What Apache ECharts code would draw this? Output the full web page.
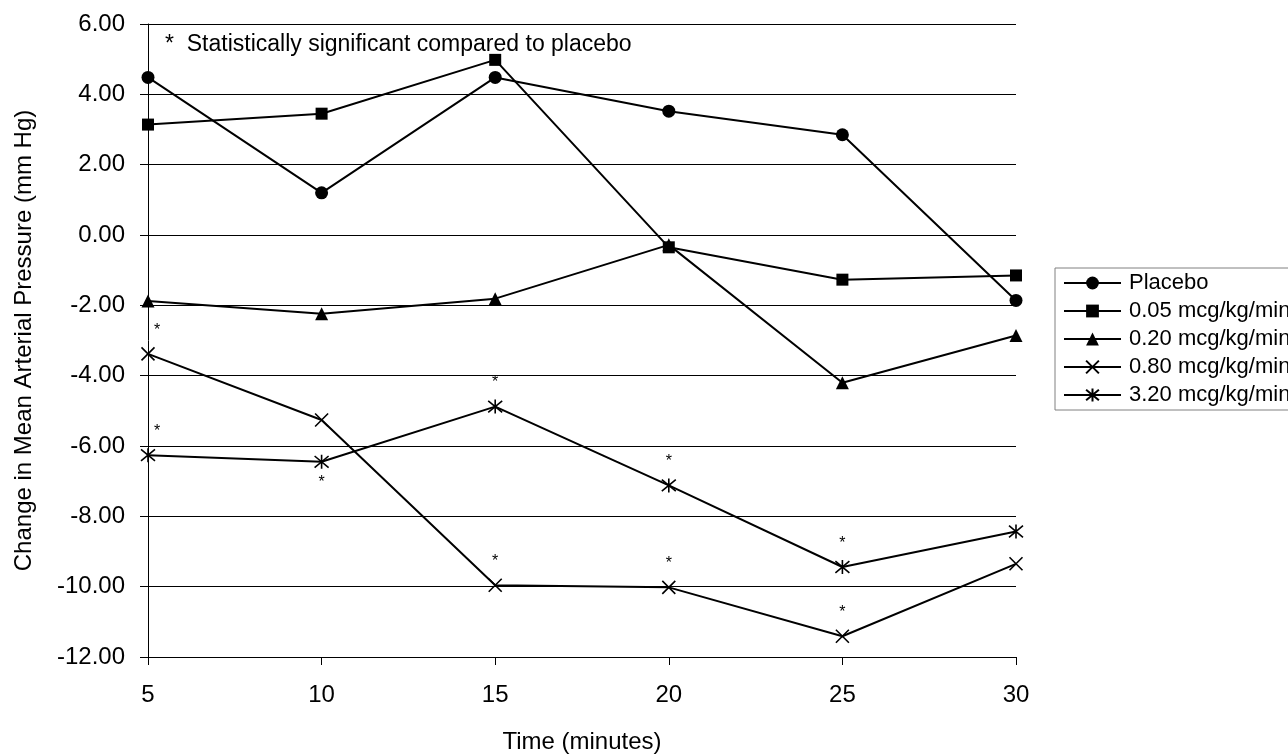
<!DOCTYPE html>
<html>
<head>
<meta charset="utf-8">
<script src="https://cdn.jsdelivr.net/npm/echarts@6/dist/echarts.min.js"></script>
<style>
html,body{margin:0;padding:0;background:#fff;overflow:hidden;}
#chart{width:1288px;height:755px;}
</style>
</head>
<body>
<div id="chart"></div>
<script>
// ---- data ----
const times = [5, 10, 15, 20, 25, 30];
const seriesNames = ['Placebo', '0.05 mcg/kg/min', '0.20 mcg/kg/min', '0.80 mcg/kg/min', '3.20 mcg/kg/min'];
const placebo = [4.48, 1.20, 4.48, 3.52, 2.85, -1.86];
const dose005 = [3.14, 3.45, 4.98, -0.35, -1.27, -1.15];
const dose020 = [-1.88, -2.24, -1.81, -0.28, -4.20, -2.86];
const dose080 = [-3.38, -5.26, -9.96, -10.02, -11.41, -9.35];
const dose320 = [-6.26, -6.45, -4.88, -7.12, -9.44, -8.43];
// significance marks: 'top' = asterisk above, 'bottom' = below, null = none
const sig080 = ['top', null, 'top', 'top', 'top', null];
const sig320 = ['top', 'bottom', 'top', 'top', 'top', null];
const yTicks = { min: -12, max: 6, step: 2 };
const xTicks = { min: 5, max: 30, step: 5 };
const noteText = '*  Statistically significant compared to placebo';

const FONT = '"Liberation Sans", Arial, Helvetica, sans-serif';
const symbols = [
  'circle',
  'rect',
  'triangle',
  'path://M0,0L10,10M10,0L0,10',
  'path://M0,0L10,10M10,0L0,10M5,-1L5,11'
];
const symbolSizes = [13, 12, 13, 13, 14];
const allValues = [placebo, dose005, dose020, dose080, dose320];
const sigs = [null, null, null, sig080, sig320];

function buildData(vals, sig) {
  return vals.map((v, i) => {
    const item = { value: [times[i], v] };
    if (sig && sig[i]) {
      item.label = {
        show: true,
        formatter: '*',
        position: sig[i],
        distance: sig[i] === 'top' ? 8 : 5,
        offset: i === 0 ? [9, 0] : [0, 0],
        fontSize: 16,
        fontFamily: FONT,
        color: '#000'
      };
    }
    return item;
  });
}

const series = seriesNames.map((name, k) => {
  const isPath = k >= 3;
  return {
    name,
    type: 'line',
    data: buildData(allValues[k], sigs[k]),
    symbol: symbols[k],
    symbolSize: symbolSizes[k],
    showAllSymbol: true,
    lineStyle: { color: '#000', width: 2 },
    itemStyle: isPath
      ? { color: '#000', borderColor: '#000', borderWidth: 1.6 }
      : { color: '#000', borderColor: '#000', borderWidth: 0 },
    emphasis: { disabled: true },
    animation: false,
    z: 3
  };
});

const chart = echarts.init(document.getElementById('chart'), null, { renderer: 'canvas' });
chart.setOption({
  backgroundColor: '#fff',
  animation: false,
  textStyle: { fontFamily: FONT },
  grid: { left: 148, right: 272, top: 24, bottom: 98, containLabel: false, outerBoundsMode: 'none' },
  title: {
    text: noteText,
    left: 160,
    top: 28,
    textStyle: { fontFamily: FONT, fontSize: 23, fontWeight: 'normal', color: '#000' }
  },
  legend: {
    orient: 'vertical',
    left: 1055,
    top: 268,
    data: seriesNames,
    itemWidth: 57,
    itemHeight: 16,
    itemGap: 6,
    padding: [4, 60, 4, 8],
    borderColor: '#808080',
    borderWidth: 1,
    textStyle: { fontFamily: FONT, fontSize: 22, color: '#000', padding: [0, 0, 0, 3] },
    selectedMode: false
  },
  xAxis: {
    type: 'value',
    min: xTicks.min,
    max: xTicks.max,
    interval: xTicks.step,
    name: 'Time (minutes)',
    nameLocation: 'middle',
    nameGap: 73,
    nameTextStyle: { fontFamily: FONT, fontSize: 24, color: '#000' },
    axisLine: { show: true, onZero: false, lineStyle: { color: '#000', width: 1 } },
    axisTick: { show: true, inside: false, length: 8, lineStyle: { color: '#000' } },
    axisLabel: { margin: 26, fontFamily: FONT, fontSize: 24, color: '#000' },
    splitLine: { show: false }
  },
  yAxis: {
    type: 'value',
    min: yTicks.min,
    max: yTicks.max,
    interval: yTicks.step,
    name: 'Change in Mean Arterial Pressure (mm Hg)',
    nameLocation: 'middle',
    nameGap: 112,
    nameRotate: 90,
    nameTextStyle: { fontFamily: FONT, fontSize: 24, color: '#000' },
    axisLine: { show: true, onZero: false, lineStyle: { color: '#000', width: 1 } },
    axisTick: { show: true, inside: false, length: 8, lineStyle: { color: '#000' } },
    axisLabel: {
      margin: 23, fontFamily: FONT, fontSize: 24, color: '#000',
      formatter: v => v.toFixed(2)
    },
    splitLine: { show: true, lineStyle: { color: '#000', width: 1 } }
  },
  series
});
</script>
</body>
</html>
